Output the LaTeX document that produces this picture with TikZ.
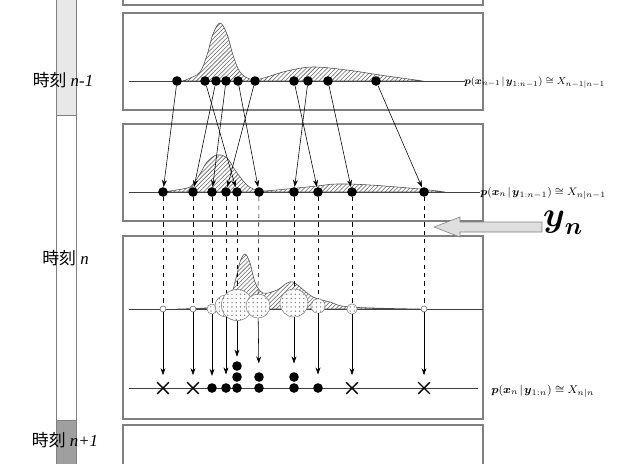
\documentclass[tikz,border=0pt]{standalone}
\usepackage{amsmath}
\usepackage{amssymb}
\usepackage{fontspec}
\setmainfont{Liberation Serif}
\newfontfamily\cjk{Noto Sans CJK JP}
\usetikzlibrary{patterns,shapes.misc,arrows.meta}

\begin{document}
\begin{tikzpicture}[x=0.025cm, y=-0.025cm, >={Stealth[length=5pt,width=3.5pt]},
                    particle/.style = {circle, fill=black, inner sep=0, minimum size=2.4mm},
                    smallcirc/.style = {circle, draw=black!60, fill=white, inner sep=0, minimum size=1.5mm},
                    wcirc/.style = {circle, draw=black!50, fill=white, inner sep=0, postaction={pattern=dots, pattern color=black!55}},
                    xmark/.style = {cross out, draw=black, line width=1pt, inner sep=0, minimum size=2.2mm, outer sep=1pt},
                    panel/.style = {draw=gray, line width=0.8pt},
                    axisline/.style = {draw=black!75, line width=0.6pt},
                    dens/.style = {draw=black!70, pattern=north east lines, pattern color=black!60},
                    timelabel/.style = {font=\fontsize{12}{14}\selectfont},
                    formula/.style = {anchor=base west, inner sep=0, font=\fontsize{8.1}{10}\selectfont}]
        \useasboundingbox (0,0) rectangle (617,463);
        % time bar
        \draw[gray, fill=gray!18] (56,-2) rectangle (76,115);
        \draw[gray, fill=white] (56,115) rectangle (76,420);
        \draw[gray, fill=gray!75] (56,420) rectangle (76,465);
        \node[timelabel] (t1) at (63,80) {{\cjk 時刻} \textit{n-1}};
        \node[timelabel] (t2) at (65.5,258) {{\cjk 時刻} \textit{n}};
        \node[timelabel] (t3) at (65,440) {{\cjk 時刻} \textit{n+1}};
        % panels
        \draw[panel] (123,-10) rectangle (483,5);
        \draw[panel] (123,13) rectangle (483,110);
        \draw[panel] (123,124) rectangle (483,221);
        \draw[panel] (123,236) rectangle (483,419);
        \draw[panel] (123,425) rectangle (483,470);
        \draw[axisline] (129,81) -- (465,81);
        \draw[axisline] (129,192) -- (480,192);
        \draw[axisline] (129,309) -- (483,309);
        \draw[axisline] (129,388) -- (478,388);
        % densities
        \draw[dens] plot[smooth, tension=0.6] coordinates {(182,81) (188,79) (200,72) (207,55) (213,34) (220,23) (227,34) (233,55) (240,72) (250,79) (260,79) (287,71) (313,67) (347,70) (380,75) (423,81)} -- cycle;
        \draw[dens] plot[smooth, tension=0.6] coordinates {(163,192) (187,188) (193,184) (200,174) (207,162) (217,155) (227,158) (235,170) (245,183) (253,189) (262,191) (287,189) (317,186) (337,184) (370,185) (420,189) (445,192)} -- cycle;
        \draw[dens] plot[smooth, tension=0.6] coordinates {(178,309) (205,308) (217,306) (230,297) (236,278) (240,262) (245,254) (250,263) (255,282) (263,293) (277,290) (287,283) (293,282) (300,287) (313,297) (330,302) (350,307) (420,309)} -- cycle;
        % particles at n-1
        \node[particle] (a1) at (177,81) {};
        \node[particle] (a2) at (205,81) {};
        \node[particle] (a3) at (216,81) {};
        \node[particle] (a4) at (226,81) {};
        \node[particle] (a5) at (238,81) {};
        \node[particle] (a6) at (255,81) {};
        \node[particle] (a7) at (294,81) {};
        \node[particle] (a8) at (308,81) {};
        \node[particle] (a9) at (328,81) {};
        \node[particle] (a10) at (376,81) {};
        % predicted particles
        \node[particle] (b1) at (163,192) {};
        \node[particle] (b2) at (193,192) {};
        \node[particle] (b3) at (212,192) {};
        \node[particle] (b4) at (226,192) {};
        \node[particle] (b5) at (237,192) {};
        \node[particle] (b6) at (259,192) {};
        \node[particle] (b7) at (294,192) {};
        \node[particle] (b8) at (318,192) {};
        \node[particle] (b9) at (352,192) {};
        \node[particle] (b10) at (424,192) {};
        \draw[->] (a1) -- (b1);
        \draw[->] (a2) -- (b5);
        \draw[->] (a3) -- (b2);
        \draw[->] (a4) -- (b3);
        \draw[->] (a5) -- (b6);
        \draw[->] (a6) -- (b4);
        \draw[->] (a7) -- (b8);
        \draw[->] (a8) -- (b7);
        \draw[->] (a9) -- (b9);
        \draw[->] (a10) -- (b10);
        % weights
        \coordinate (c1) at (163,309);
        \coordinate (c2) at (193,309);
        \coordinate (c3) at (212,309);
        \coordinate (c4) at (226,306);
        \coordinate (c5) at (237,305);
        \coordinate (c6) at (258,306);
        \coordinate (c7) at (294,303);
        \coordinate (c8) at (318,306);
        \coordinate (c9) at (352,309);
        \coordinate (c10) at (424,309);
        \draw[dashed] (b1) -- (c1);
        \draw[dashed] (b2) -- (c2);
        \draw[dashed] (b3) -- (c3);
        \draw[dashed] (b4) -- (c4);
        \draw[dashed] (b5) -- (c5);
        \draw[dashed] (b6) -- (c6);
        \draw[dashed] (b7) -- (c7);
        \draw[dashed] (b8) -- (c8);
        \draw[dashed] (b9) -- (c9);
        \draw[dashed] (b10) -- (c10);
        \node[smallcirc] (w1) at (c1) {};
        \node[smallcirc] (w2) at (c2) {};
        \node[wcirc, minimum size=2.5mm] (w3) at (c3) {};
        \node[wcirc, minimum size=5.5mm] (w4) at (c4) {};
        \node[wcirc, minimum size=7.8mm] (w5) at (c5) {};
        \node[wcirc, minimum size=6mm] (w6) at (c6) {};
        \node[wcirc, minimum size=7mm] (w7) at (c7) {};
        \node[wcirc, minimum size=3.6mm] (w8) at (c8) {};
        \node[wcirc, minimum size=2.6mm] (w9) at (c9) {};
        \node[smallcirc] (w10) at (c10) {};
        % resampled particles
        \node[xmark] (d1) at (163,388) {};
        \node[xmark] (d2) at (193,388) {};
        \node[particle] (d3) at (212,388) {};
        \node[particle] (d4) at (226,388) {};
        \node[particle] (d5) at (237,388) {};
        \node[particle] (d5b) at (237,377) {};
        \node[particle] (d5c) at (237,366) {};
        \node[particle] (d6) at (259,388) {};
        \node[particle] (d6b) at (259,377) {};
        \node[particle] (d7) at (294,388) {};
        \node[particle] (d7b) at (294,377) {};
        \node[particle] (d8) at (318,388) {};
        \node[xmark] (d9) at (352,388) {};
        \node[xmark] (d10) at (424,388) {};
        \draw[->, shorten >=5pt] (w1) -- (d1);
        \draw[->, shorten >=5pt] (w2) -- (d2);
        \draw[->, shorten >=5pt] (w3) -- (d3);
        \draw[->, shorten >=6pt] (w4) -- (d4);
        \draw[->, shorten >=3pt] (w5) -- (d5c);
        \draw[->, shorten >=6pt] (w6) -- (d6b);
        \draw[->, shorten >=6pt] (w7) -- (d7b);
        \draw[->, shorten >=6pt] (w8) -- (d8);
        \draw[->, shorten >=5pt] (w9) -- (d9);
        \draw[->, shorten >=5pt] (w10) -- (d10);
        % distributions
        \node[formula] (f1) at (464,84) {\scalebox{0.9}{$\boldsymbol{p}(\boldsymbol{x}_{n-1}\mspace{2mu}|\mspace{2mu}\boldsymbol{y}_{1:n-1})\cong X_{n-1|n-1}$}};
        \node[formula] (f2) at (480,195) {\scalebox{0.97}{$\boldsymbol{p}(\boldsymbol{x}_{n}\mspace{2mu}|\mspace{2mu}\boldsymbol{y}_{1:n-1})\cong X_{n|n-1}$}};
        \node[formula] (f3) at (491,393) {$\boldsymbol{p}(\boldsymbol{x}_{n}\mspace{2mu}|\mspace{2mu}\boldsymbol{y}_{1:n})\cong X_{n|n}$};
        % observation
        \node[font=\fontsize{26}{28}\selectfont] (yn) at (563,223) {$\boldsymbol{y}_{\boldsymbol{n}}$};
        \draw[draw=gray, fill=gray!25] (542,222) -- (460,222) -- (460,217) -- (434,227) -- (460,237) -- (460,232) -- (542,232) -- cycle;
    \end{tikzpicture}
\end{document}
